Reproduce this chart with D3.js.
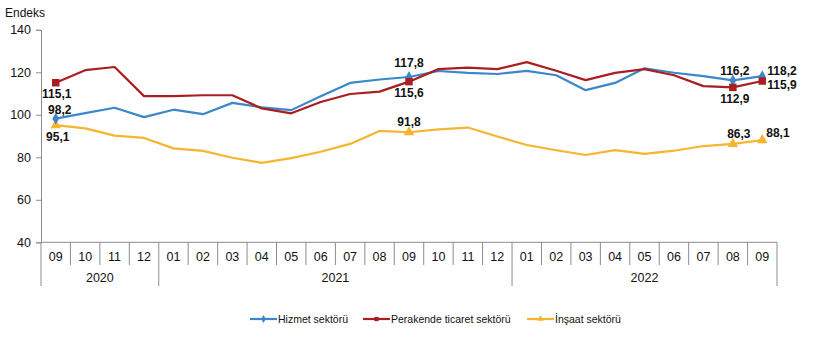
<!DOCTYPE html>
<html>
<head>
<meta charset="utf-8">
<script src="https://cdn.jsdelivr.net/npm/d3@7"></script>
<style>
  body { margin: 0; background: #fff; }
  svg { display: block; font-family: Arial, "Liberation Sans", sans-serif; }
</style>
</head>
<body>
<div id="pane"></div>
<script>
// months shown on the axis, grouped by year
const months = ["09","10","11","12","01","02","03","04","05","06","07","08","09","10","11","12","01","02","03","04","05","06","07","08","09"];
const years = [
  { label: "2020", from: 0, to: 4 },
  { label: "2021", from: 4, to: 16 },
  { label: "2022", from: 16, to: 25 }
];
const yTicks = [40, 60, 80, 100, 120, 140];

const hizmet    = [98.2,100.8,103.3,98.9,102.4,100.3,105.6,103.5,102.2,108.7,115.0,116.6,117.8,120.6,119.7,119.2,120.7,118.6,111.6,115.0,121.9,119.8,118.2,116.2,118.2];
const perakende = [115.1,121.0,122.5,108.8,108.8,109.2,109.2,103.0,100.7,106.0,109.8,110.9,115.6,121.5,122.2,121.5,124.8,120.7,116.3,119.7,121.5,118.6,113.5,112.9,115.9];
const insaat    = [95.1,93.6,90.2,89.1,84.2,83.0,79.8,77.4,79.6,82.6,86.3,92.4,91.8,93.1,94.0,89.8,85.8,83.3,81.1,83.4,81.6,83.1,85.3,86.3,88.1];

const seriesNames = ["Hizmet sektörü", "Perakende ticaret sektörü", "İnşaat sektörü"];
const seriesColors = ["#3a87c9", "#a91e22", "#f7b52f"];
const seriesShapes = [d3.symbolDiamond, d3.symbolSquare, d3.symbolTriangle];
const markedIdx = [0, 12, 23, 24];

const width = 822, height = 338;
const margin = { top: 30, right: 45, bottom: 96, left: 41 };

const svg = d3.select("#pane").append("svg")
  .attr("width", width)
  .attr("height", height);

const x = d3.scaleBand()
  .domain(d3.range(months.length))
  .range([margin.left, 777]);

const y = d3.scaleLinear()
  .domain([40, 140])
  .range([242.3, 29.8]);

const axisColor = "#8c8c8c";

// y axis
const yAxis = svg.append("g")
  .attr("transform", `translate(${margin.left},0)`)
  .call(d3.axisLeft(y).tickValues(yTicks).tickSize(5).tickPadding(5));
yAxis.select(".domain").attr("stroke", axisColor);
yAxis.selectAll(".tick line").attr("stroke", axisColor);
yAxis.selectAll(".tick text").attr("font-size", 12.5).attr("fill", "#111")
  .attr("font-family", "Arial, 'Liberation Sans', sans-serif");

svg.append("text")
  .attr("x", 5).attr("y", 17)
  .attr("font-size", 12).attr("fill", "#111")
  .text("Endeks");

// x axis: baseline, month dividers and year dividers
const y0 = y(40);
svg.append("line")
  .attr("x1", margin.left).attr("x2", x.range()[1])
  .attr("y1", y0).attr("y2", y0)
  .attr("stroke", axisColor);

const yearEdges = new Set(years.flatMap(d => [d.from, d.to]));
svg.append("g").selectAll("line")
  .data(d3.range(months.length + 1))
  .join("line")
  .attr("x1", i => x(0) + i * x.step())
  .attr("x2", i => x(0) + i * x.step())
  .attr("y1", y0)
  .attr("y2", i => yearEdges.has(i) ? 286 : 265)
  .attr("stroke", axisColor);

svg.append("g").selectAll("text")
  .data(months)
  .join("text")
  .attr("x", (d, i) => x(i) + x.bandwidth() / 2)
  .attr("y", 261)
  .attr("text-anchor", "middle")
  .attr("font-size", 12.5).attr("fill", "#111")
  .text(d => d);

svg.append("g").selectAll("text")
  .data(years)
  .join("text")
  .attr("x", d => (x(d.from) + x(d.to - 1) + x.bandwidth()) / 2)
  .attr("y", 282)
  .attr("text-anchor", "middle")
  .attr("font-size", 12.5).attr("fill", "#111")
  .text(d => d.label);

// series lines
const line = d3.line()
  .x((d, i) => x(i) + x.bandwidth() / 2)
  .y(d => y(d));

const allSeries = [hizmet, perakende, insaat];
const plotOrder = [2, 0, 1];
plotOrder.forEach(s => {
  svg.append("path")
    .datum(allSeries[s])
    .attr("fill", "none")
    .attr("stroke", seriesColors[s])
    .attr("stroke-width", 2.2)
    .attr("stroke-linejoin", "round")
    .attr("d", line);
});

// markers on highlighted months
const markerSize = [40, 56, 48];
plotOrder.forEach(s => {
  svg.append("g").selectAll("path")
    .data(markedIdx)
    .join("path")
    .attr("transform", i => `translate(${x(i) + x.bandwidth() / 2},${y(allSeries[s][i])})`)
    .attr("d", d3.symbol().type(seriesShapes[s]).size(markerSize[s]))
    .attr("fill", seriesColors[s]);
});

// value labels: [series, index, dx, dy, anchor]
const labels = [
  [1, 0, 1, 11, "middle"],
  [0, 0, 4, -9, "middle"],
  [2, 0, 2, 12, "middle"],
  [0, 12, 0, -14, "middle"],
  [1, 12, 0, 11, "middle"],
  [2, 12, 0, -10.5, "middle"],
  [0, 23, 2, -9.5, "middle"],
  [1, 23, 2, 11.5, "middle"],
  [2, 23, 6, -10.5, "middle"],
  [0, 24, 5, -5.5, "start"],
  [1, 24, 5, 3.5, "start"],
  [2, 24, 4, -7, "start"]
];
const fmt = v => d3.format(".1f")(v).replace(".", ",");
svg.append("g").selectAll("text")
  .data(labels)
  .join("text")
  .attr("x", d => x(d[1]) + x.bandwidth() / 2 + d[2])
  .attr("y", d => y(allSeries[d[0]][d[1]]) + d[3])
  .attr("dy", "0.35em")
  .attr("text-anchor", d => d[4])
  .attr("font-size", 12).attr("font-weight", "bold").attr("fill", "#111")
  .text(d => fmt(allSeries[d[0]][d[1]]));

// legend
const legendX = [250, 363, 527];
const legend = svg.append("g").selectAll("g")
  .data(seriesNames)
  .join("g")
  .attr("transform", (d, i) => `translate(${legendX[i]},319)`);
legend.append("line")
  .attr("x1", 0).attr("x2", 27)
  .attr("stroke", (d, i) => seriesColors[i])
  .attr("stroke-width", 2.2);
legend.append("path")
  .attr("transform", "translate(13.5,0)")
  .attr("d", (d, i) => d3.symbol().type(seriesShapes[i]).size(18)())
  .attr("fill", (d, i) => seriesColors[i]);
legend.append("text")
  .attr("x", 28).attr("dy", "0.35em")
  .attr("font-size", 10.5).attr("fill", "#111")
  .text(d => d);
</script>
</body>
</html>
